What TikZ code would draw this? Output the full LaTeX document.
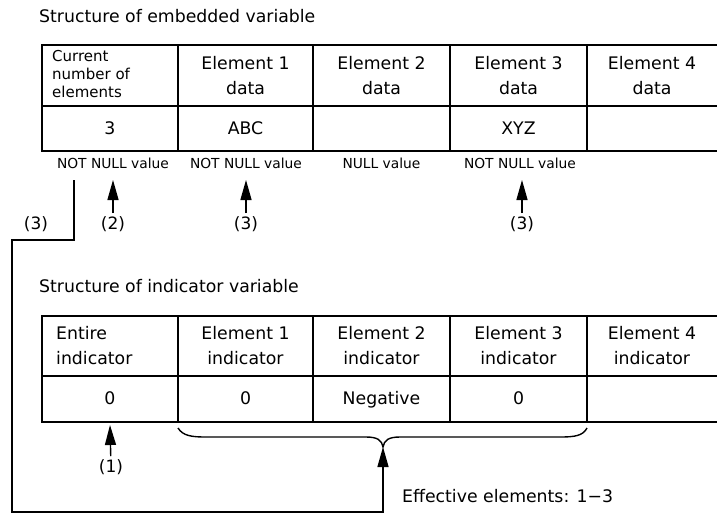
\documentclass[tikz,border=0pt]{standalone}
\usepackage{fontspec}
\setmainfont{DejaVu Sans}
\usetikzlibrary{arrows.meta}
\begin{document}
\begin{tikzpicture}[x=1pt,y=-1pt,
  grid/.style={line width=1.5pt},
  link/.style={line width=1.4pt},
  arr/.style={link,-{Triangle[length=20pt,width=11pt]}},
  txt/.style={font=\fontsize{17.3}{25}\selectfont, inner sep=0pt, align=center},
  lead/.style={font=\fontsize{15}{18}\selectfont, inner sep=0pt, align=left, anchor=west},
  small/.style={font=\fontsize{13.8}{16}\selectfont, inner sep=0pt, anchor=base},
  val/.style={font=\fontsize{17.3}{25}\selectfont, inner sep=0pt, anchor=base},
  tag/.style={font=\fontsize{17}{18}\selectfont, inner sep=3pt},
]
\useasboundingbox (0,0) rectangle (717,514);

% ---------- embedded variable ----------
\node[val, anchor=base west] (title1) at (39,22) {Structure of embedded variable};

\draw[grid] (717,45) -- (42,45) -- (42,151) -- (717,151);
\draw[grid] (42,106) -- (717,106);
\foreach \x in {178,313,450,587} \draw[grid] (\x,45) -- (\x,151);

\node[lead] (h0) at (52,74) {Current\\number of\\elements};
\node[txt] (h1) at (245.5,76) {Element 1\\data};
\node[txt] (h2) at (381.5,76) {Element 2\\data};
\node[txt] (h3) at (518.5,76) {Element 3\\data};
\node[txt] (h4) at (652,76) {Element 4\\data};

\node[val] (d0) at (110,134) {3};
\node[val] (d1) at (245.5,134) {ABC};
\node[val] (d3) at (518.5,134) {XYZ};

\node[small] (n0) at (113,168) {NOT NULL value};
\node[small] (n1) at (246,168) {NOT NULL value};
\node[small] (n2) at (381.5,168) {NULL value};
\node[small] (n3) at (520,168) {NOT NULL value};

\coordinate (t0) at (113,180);
\coordinate (t1) at (246,180);
\coordinate (t3) at (522,180);
\node[tag] (p2) at (113,224) {(2)};
\node[tag] (p3a) at (246,224) {(3)};
\node[tag] (p3b) at (522,224) {(3)};
\node[tag] (p3c) at (36,224) {(3)};
\draw[arr] (p2) -- (t0);
\draw[arr] (p3a) -- (t1);
\draw[arr] (p3b) -- (t3);

% ---------- indicator variable ----------
\node[val, anchor=base west] (title2) at (39,292) {Structure of indicator variable};

\draw[grid] (717,316) -- (42,316) -- (42,422) -- (717,422);
\draw[grid] (42,376) -- (717,376);
\foreach \x in {178,313,450,587} \draw[grid] (\x,316) -- (\x,422);

\node[txt, align=left, anchor=west] (g0) at (56,346) {Entire\\indicator};
\node[txt] (g1) at (245.5,346) {Element 1\\indicator};
\node[txt] (g2) at (381.5,346) {Element 2\\indicator};
\node[txt] (g3) at (518.5,346) {Element 3\\indicator};
\node[txt] (g4) at (652,346) {Element 4\\indicator};

\node[val] (e0) at (110,404.5) {0};
\node[val] (e1) at (245.5,404.5) {0};
\node[val] (e2) at (381.5,404.5) {Negative};
\node[val] (e3) at (518.5,404.5) {0};

% indicator (1)
\coordinate (t4) at (110,425);
\node[tag] (p1) at (111,467) {(1)};
\draw[arr] (p1) -- (t4);

% brace over the effective elements
\coordinate (bt) at (383,447);
\draw[link] (178,428) .. controls (183,436) and (192,437) .. (206,437)
  -- (366,437) .. controls (377,437) and (382,440) .. (bt)
  .. controls (384,440) and (389,437) .. (400,437)
  -- (560,437) .. controls (574,437) and (583,436) .. (587,428);

% connector from the element count to the effective elements
\coordinate (c0) at (74,180);
\draw[arr] (c0) -- (74,240) -- (12,240) -- (12,512) -- (383,512) -- (bt);

\node[val, anchor=base west] (eff) at (402,502) {Effective elements: 1−3};
\end{tikzpicture}
\end{document}
